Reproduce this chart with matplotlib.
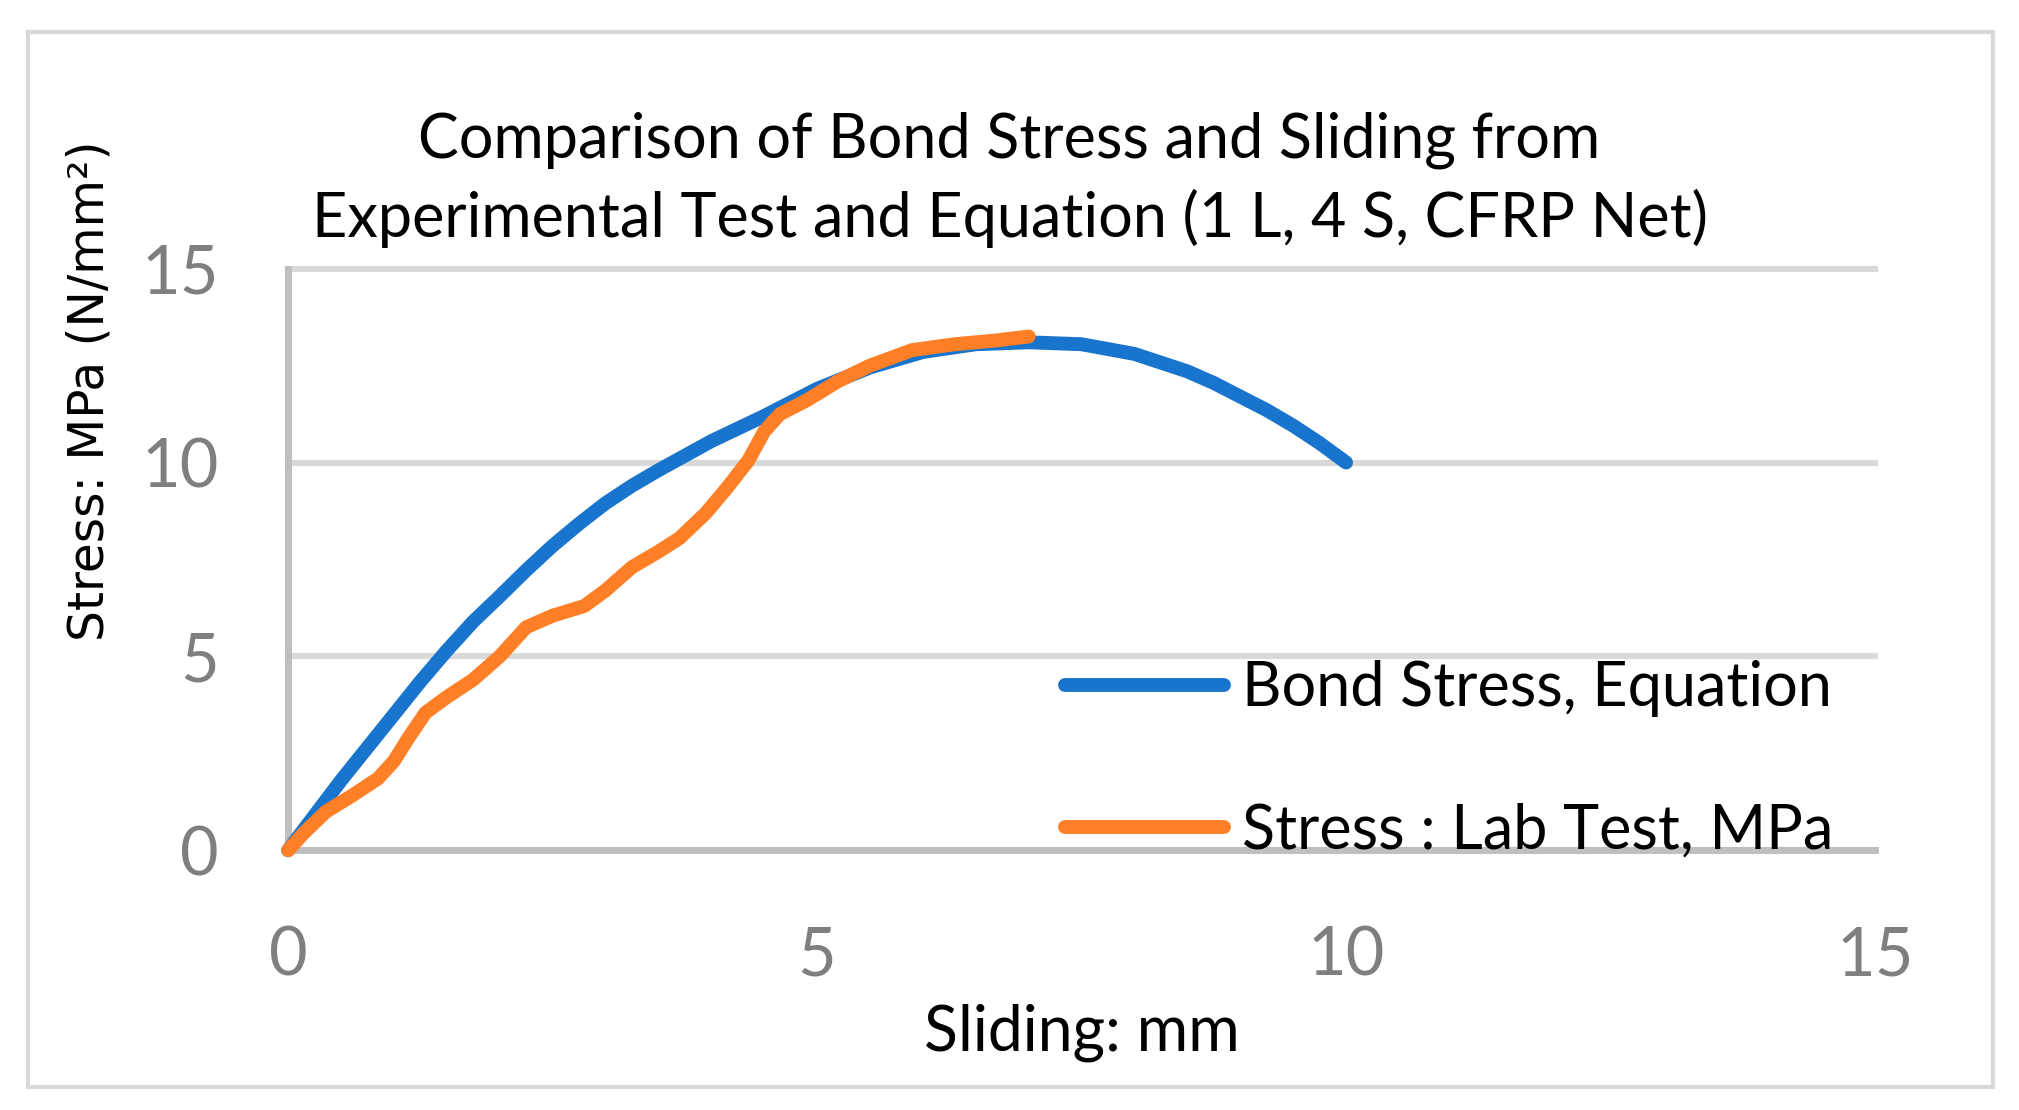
import matplotlib
matplotlib.use("Agg")
import matplotlib.pyplot as plt
from matplotlib.patches import Rectangle

# Bond stress from equation (sliding mm, stress MPa)
eq_slip = [0, 0.5, 1, 1.25, 1.5, 1.75, 2, 2.25, 2.5, 2.75, 3, 3.25, 3.5, 4, 4.5, 5, 5.5, 6,
           6.5, 7, 7.5, 8, 8.5, 8.75, 9, 9.25, 9.5, 9.75, 10]
eq_stress = [0, 1.8, 3.5, 4.35, 5.15, 5.9, 6.55, 7.22, 7.85, 8.42, 8.95, 9.4, 9.8, 10.55, 11.2,
             11.9, 12.45, 12.85, 13.05, 13.1, 13.05, 12.8, 12.35, 12.05, 11.7, 11.35, 10.95,
             10.5, 10.0]

# Lab test
lab_slip = [0, 0.15, 0.36, 0.6, 0.85, 1.0, 1.15, 1.3, 1.5, 1.75, 2.0, 2.25, 2.5, 2.8, 3.0,
            3.25, 3.5, 3.7, 3.95, 4.15, 4.35, 4.5, 4.65, 4.9, 5.2, 5.5, 5.9, 6.3, 6.7, 7.0]
lab_stress = [0, 0.45, 1.0, 1.4, 1.85, 2.3, 2.95, 3.55, 3.95, 4.4, 5.0, 5.75, 6.05, 6.3, 6.7,
              7.3, 7.7, 8.05, 8.7, 9.35, 10.05, 10.8, 11.25, 11.6, 12.1, 12.5, 12.9, 13.05,
              13.15, 13.25]

ticks = [0, 5, 10, 15]

title = "Comparison of Bond Stress and Sliding from\nExperimental Test and Equation (1 L, 4 S, CFRP Net)"

plt.rcParams['font.family'] = ['Lato', 'DejaVu Sans']

fig = plt.figure(figsize=(20.19, 11.10), dpi=100)
ax = fig.add_axes([0.1427, 0.234, 0.786, 0.524])

ax.plot(eq_slip, eq_stress, color='#1874CD', lw=10, solid_capstyle='round',
        solid_joinstyle='round', label='Bond Stress, Equation', clip_on=False, zorder=3)
ax.plot(lab_slip, lab_stress, color='#FF7F27', lw=10, solid_capstyle='round',
        solid_joinstyle='round', label='Stress : Lab Test, MPa', clip_on=False, zorder=4)

ax.set_xlim(0, 15)
ax.set_ylim(0, 15)
ax.set_xticks(ticks)
ax.set_yticks(ticks)
ax.tick_params(length=0, labelsize=48, labelcolor='#7f7f7f')
ax.tick_params(axis='x', pad=54)
ax.tick_params(axis='y', pad=50)

ax.yaxis.grid(True, color='#d9d9d9', lw=4.4)
for gl in ax.get_ygridlines():
    gl.set_clip_on(False)
ax.set_axisbelow(True)

for s in ['top', 'right']:
    ax.spines[s].set_visible(False)
for s in ['left', 'bottom']:
    ax.spines[s].set_color('#bfbfbf')
    ax.spines[s].set_linewidth(5)

ax.set_xlabel('Sliding: mm', fontsize=45, labelpad=12)
fig.text(90 / 2019, 1 - 391 / 1110, 'Stress: MPa (N/mm²)', rotation=90, fontsize=35,
         family='DejaVu Sans', ha='center', va='center')

fig.text(0.5, 1 - 180 / 1110, title, ha='center', va='center', fontsize=44, linespacing=1.4)

ax.legend(loc='center left', bbox_to_anchor=(0.455, 0.155), frameon=False, fontsize=44,
          handlelength=2.6, handletextpad=0.3, labelspacing=1.4)

fig.patches.append(Rectangle((28 / 2019, 1 - 1087 / 1110), 1965 / 2019, 1055 / 1110,
                             transform=fig.transFigure, fill=False, edgecolor='#d9d9d9',
                             lw=3))

fig.savefig('out.png', dpi=100)
